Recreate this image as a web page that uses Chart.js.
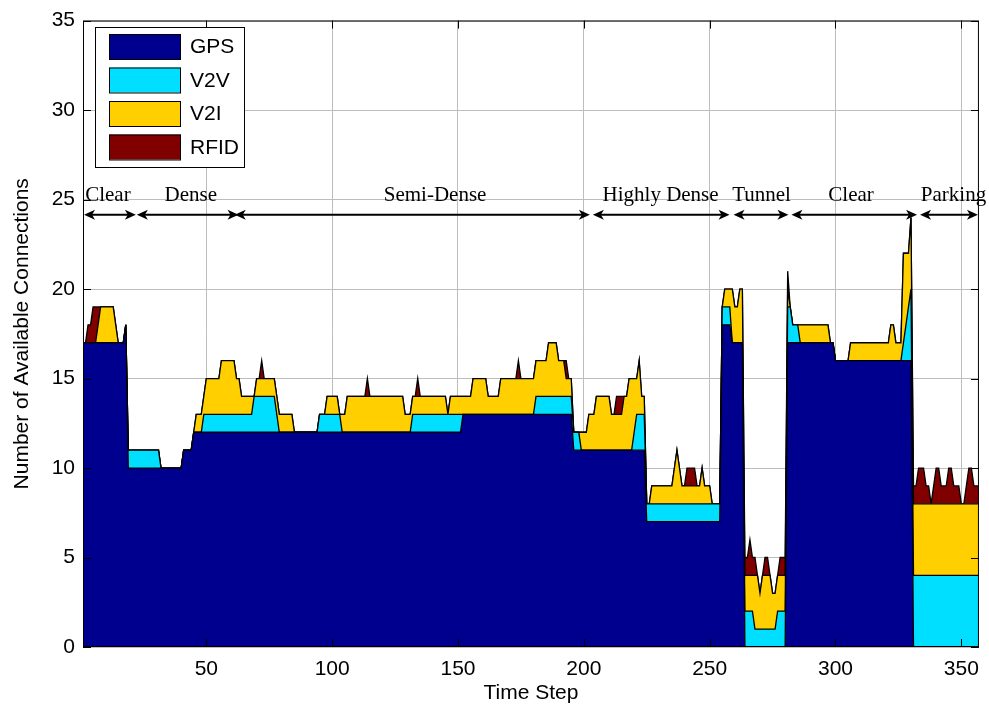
<!DOCTYPE html>
<html>
<head>
<meta charset="utf-8">
<title>Available connections per time step</title>
<script src="https://cdn.jsdelivr.net/npm/chart.js@4.4.1/dist/chart.umd.min.js"></script>
<style>
  html, body { margin: 0; padding: 0; background: #ffffff; }
  #wrap { position: relative; width: 989px; height: 710px; }
</style>
</head>
<body>
<div id="wrap"><canvas id="c" width="989" height="710"></canvas></div>
<script>
// Connections available per technology at every time step (stacked).
const seriesNames = ['GPS', 'V2V', 'V2I', 'RFID'];
const seriesColors = ['#00008F', '#00DFFF', '#FFCF00', '#800000'];

const gps = [
  17,17,17,17,17,17,17,17,17,17, // 1-10
  17,17,17,17,17,17,17,18,10,10, // 11-20
  10,10,10,10,10,10,10,10,10,10, // 21-30
  10,10,10,10,10,10,10,10,10,10, // 31-40
  11,11,11,11,12,12,12,12,12,12, // 41-50
  12,12,12,12,12,12,12,12,12,12, // 51-60
  12,12,12,12,12,12,12,12,12,12, // 61-70
  12,12,12,12,12,12,12,12,12,12, // 71-80
  12,12,12,12,12,12,12,12,12,12, // 81-90
  12,12,12,12,12,12,12,12,12,12, // 91-100
  12,12,12,12,12,12,12,12,12,12, // 101-110
  12,12,12,12,12,12,12,12,12,12, // 111-120
  12,12,12,12,12,12,12,12,12,12, // 121-130
  12,12,12,12,12,12,12,12,12,12, // 131-140
  12,12,12,12,12,12,12,12,12,12, // 141-150
  12,13,13,13,13,13,13,13,13,13, // 151-160
  13,13,13,13,13,13,13,13,13,13, // 161-170
  13,13,13,13,13,13,13,13,13,13, // 171-180
  13,13,13,13,13,13,13,13,13,13, // 181-190
  13,13,13,13,13,11,11,11,11,11, // 191-200
  11,11,11,11,11,11,11,11,11,11, // 201-210
  11,11,11,11,11,11,11,11,11,11, // 211-220
  11,11,11,11, 7, 7, 7, 7, 7, 7, // 221-230
   7, 7, 7, 7, 7, 7, 7, 7, 7, 7, // 231-240
   7, 7, 7, 7, 7, 7, 7, 7, 7, 7, // 241-250
   7, 7, 7, 7,18,18,18,18,17,17, // 251-260
  17,17,17, 0, 0, 0, 0, 0, 0, 0, // 261-270
   0, 0, 0, 0, 0, 0, 0, 0, 0, 0, // 271-280
  17,17,17,17,17,17,17,17,17,17, // 281-290
  17,17,17,17,17,17,17,17,17,16, // 291-300
  16,16,16,16,16,16,16,16,16,16, // 301-310
  16,16,16,16,16,16,16,16,16,16, // 311-320
  16,16,16,16,16,16,16,16,16,16, // 321-330
   0, 0, 0, 0, 0, 0, 0, 0, 0, 0, // 331-340
   0, 0, 0, 0, 0, 0, 0, 0, 0, 0, // 341-350
   0, 0, 0, 0, 0, 0, 0           // 351-357
];

const v2v = [
  0,0,0,0,0,0,0,0,0,0, // 1-10
  0,0,0,0,0,0,0,0,1,1, // 11-20
  1,1,1,1,1,1,1,1,1,1, // 21-30
  1,0,0,0,0,0,0,0,0,0, // 31-40
  0,0,0,0,0,0,0,0,1,1, // 41-50
  1,1,1,1,1,1,1,1,1,1, // 51-60
  1,1,1,1,1,1,1,1,2,2, // 61-70
  2,2,2,2,2,2,2,1,0,0, // 71-80
  0,0,0,0,0,0,0,0,0,0, // 81-90
  0,0,0,0,1,1,1,1,1,1, // 91-100
  1,1,1,0,0,0,0,0,0,0, // 101-110
  0,0,0,0,0,0,0,0,0,0, // 111-120
  0,0,0,0,0,0,0,0,0,0, // 121-130
  0,1,1,1,1,1,1,1,1,1, // 131-140
  1,1,1,1,1,1,1,1,1,1, // 141-150
  1,0,0,0,0,0,0,0,0,0, // 151-160
  0,0,0,0,0,0,0,0,0,0, // 161-170
  0,0,0,0,0,0,0,0,0,0, // 171-180
  1,1,1,1,1,1,1,1,1,1, // 181-190
  1,1,1,1,1,1,1,1,0,0, // 191-200
  0,0,0,0,0,0,0,0,0,0, // 201-210
  0,0,0,0,0,0,0,0,0,1, // 211-220
  2,2,2,2,1,1,1,1,1,1, // 221-230
  1,1,1,1,1,1,1,1,1,1, // 231-240
  1,1,1,1,1,1,1,1,1,1, // 241-250
  1,1,1,1,1,1,1,1,0,0, // 251-260
  0,0,0,2,2,2,2,1,1,1, // 261-270
  1,1,1,1,1,1,2,2,2,2, // 271-280
  2,2,1,1,1,0,0,0,0,0, // 281-290
  0,0,0,0,0,0,0,0,0,0, // 291-300
  0,0,0,0,0,0,0,0,0,0, // 301-310
  0,0,0,0,0,0,0,0,0,0, // 311-320
  0,0,0,0,0,0,1,2,3,4, // 321-330
  4,4,4,4,4,4,4,4,4,4, // 331-340
  4,4,4,4,4,4,4,4,4,4, // 341-350
  4,4,4,4,4,4,4        // 351-357
];

const v2i = [
  0,0,0,0,0,0,1,2,2,2, // 1-10
  2,2,2,1,0,0,0,0,0,0, // 11-20
  0,0,0,0,0,0,0,0,0,0, // 21-30
  0,0,0,0,0,0,0,0,0,0, // 31-40
  0,0,0,0,0,1,1,1,1,2, // 41-50
  2,2,2,2,2,3,3,3,3,3, // 51-60
  3,2,2,1,1,1,1,1,0,1, // 61-70
  1,1,1,1,1,1,1,1,1,1, // 71-80
  1,1,1,1,0,0,0,0,0,0, // 81-90
  0,0,0,0,0,0,0,1,1,1, // 91-100
  1,1,0,1,1,2,2,2,2,2, // 101-110
  2,2,2,2,2,2,2,2,2,2, // 111-120
  2,2,2,2,2,2,2,2,1,1, // 121-130
  1,1,1,1,1,1,1,1,1,1, // 131-140
  1,1,1,1,1,0,1,1,1,1, // 141-150
  1,1,1,1,1,2,2,2,2,2, // 151-160
  2,1,1,1,1,1,2,2,2,2, // 161-170
  2,2,2,2,2,2,2,2,2,2, // 171-180
  2,2,2,2,2,3,3,3,3,2, // 181-190
  2,2,1,1,1,0,0,0,1,1, // 191-200
  1,2,2,2,3,3,3,3,3,3, // 201-210
  2,2,2,2,2,3,3,4,4,3, // 211-220
  2,3,1,1,0,0,1,1,1,1, // 221-230
  1,1,1,1,1,2,3,2,1,1, // 231-240
  1,1,1,1,1,1,2,1,1,1, // 241-250
  0,0,0,0,0,1,1,1,3,2, // 251-260
  2,3,3,2,2,2,2,3,3,2, // 261-270
  3,3,3,3,2,2,2,2,2,2, // 271-280
  1,0,0,0,0,1,1,1,1,1, // 281-290
  1,1,1,1,1,1,1,0,0,0, // 291-300
  0,0,0,0,0,1,1,1,1,1, // 301-310
  1,1,1,1,1,1,1,1,1,1, // 311-320
  1,2,2,1,1,1,5,4,3,4, // 321-330
  4,4,4,4,4,4,4,4,4,4, // 331-340
  4,4,4,4,4,4,4,4,4,4, // 341-350
  4,4,4,4,4,4,4        // 351-357
];

const rfid = [
  0,0,1,1,2,2,1,0,0,0, // 1-10
  0,0,0,0,0,0,0,0,0,0, // 11-20
  0,0,0,0,0,0,0,0,0,0, // 21-30
  0,0,0,0,0,0,0,0,0,0, // 31-40
  0,0,0,0,0,0,0,0,0,0, // 41-50
  0,0,0,0,0,0,0,0,0,0, // 51-60
  0,0,0,0,0,0,0,0,0,0, // 61-70
  0,1,0,0,0,0,0,0,0,0, // 71-80
  0,0,0,0,0,0,0,0,0,0, // 81-90
  0,0,0,0,0,0,0,0,0,0, // 91-100
  0,0,0,0,0,0,0,0,0,0, // 101-110
  0,0,0,1,0,0,0,0,0,0, // 111-120
  0,0,0,0,0,0,0,0,0,0, // 121-130
  0,0,0,1,0,0,0,0,0,0, // 131-140
  0,0,0,0,0,0,0,0,0,0, // 141-150
  0,0,0,0,0,0,0,0,0,0, // 151-160
  0,0,0,0,0,0,0,0,0,0, // 161-170
  0,0,0,1,0,0,0,0,0,0, // 171-180
  0,0,0,0,0,0,0,0,0,0, // 181-190
  0,0,1,0,0,0,0,0,0,0, // 191-200
  0,0,0,0,0,0,0,0,0,0, // 201-210
  0,0,1,1,1,0,0,0,0,0, // 211-220
  0,0,0,0,0,0,0,0,0,0, // 221-230
  0,0,0,0,0,0,0,0,0,0, // 231-240
  1,1,1,1,0,0,0,0,0,0, // 241-250
  0,0,0,0,0,0,0,0,0,0, // 251-260
  0,0,0,1,1,2,1,1,0,0, // 261-270
  0,1,1,0,0,0,0,1,1,1, // 271-280
  1,0,0,0,0,0,0,0,0,0, // 281-290
  0,0,0,0,0,0,0,0,0,0, // 291-300
  0,0,0,0,0,0,0,0,0,0, // 301-310
  0,0,0,0,0,0,0,0,0,0, // 311-320
  0,0,0,0,0,0,0,0,0,0, // 321-330
  1,1,2,2,2,1,1,0,1,2, // 331-340
  2,1,1,1,2,2,1,1,1,0, // 341-350
  0,1,2,2,1,1,1        // 351-357
];

// Time step index for each sample.
const timeSteps = gps.map((_, i) => i + 1);

const xTickValues = [50, 100, 150, 200, 250, 300, 350];
const yTickStep = 5;

// Driving environments along the route (time-step spans and label anchors).
const regionNames = ['Clear', 'Dense', 'Semi-Dense', 'Highly Dense', 'Tunnel', 'Clear', 'Parking'];
const regionFrom  = [1.4, 22.4, 61.3, 203.6, 259.5, 282.5, 333.6];
const regionTo    = [22.0, 62.8, 202.4, 257.9, 281.3, 332.4, 356.6];
const regionLabelAt = [10.9, 43.8, 140.9, 230.5, 270.6, 306.2, 346.9];
const regionArrowLevel = 24.15;
const regionLabelLevel = 24.9;

const sansFamily = '"Liberation Sans", Arial, Helvetica, sans-serif';
const serifFamily = '"Liberation Serif", "Times New Roman", serif';

function drawArrowHead(ctx, tipX, tipY, dir) {
  const len = 11, half = 5, notch = 3;
  ctx.beginPath();
  ctx.moveTo(tipX, tipY);
  ctx.lineTo(tipX - dir * len, tipY - half);
  ctx.lineTo(tipX - dir * (len - notch), tipY);
  ctx.lineTo(tipX - dir * len, tipY + half);
  ctx.closePath();
  ctx.fill();
}

// Axes box, inward tick marks and the environment spans.
const framePlugin = {
  id: 'framePlugin',
  afterDatasetsDraw(chart) {
    const { ctx, chartArea: a, scales: { x, y } } = chart;
    ctx.save();
    ctx.strokeStyle = '#000';
    ctx.lineWidth = 1;
    const tl = 8;
    ctx.beginPath();
    x.ticks.forEach(t => {
      const px = Math.round(x.getPixelForValue(t.value)) + 0.5;
      ctx.moveTo(px, a.bottom); ctx.lineTo(px, a.bottom - tl);
      ctx.moveTo(px, a.top); ctx.lineTo(px, a.top + tl);
    });
    y.ticks.forEach(t => {
      const py = Math.round(y.getPixelForValue(t.value)) + 0.5;
      ctx.moveTo(a.left, py); ctx.lineTo(a.left + tl, py);
      ctx.moveTo(a.right, py); ctx.lineTo(a.right - tl, py);
    });
    ctx.stroke();
    ctx.strokeRect(a.left + 0.5, a.top + 0.5, a.right - a.left - 1, a.bottom - a.top - 1);

    // environment spans
    const ay = y.getPixelForValue(regionArrowLevel);
    const ly = y.getPixelForValue(regionLabelLevel);
    ctx.fillStyle = '#000';
    ctx.lineWidth = 2;
    ctx.font = '21px ' + serifFamily;
    ctx.textAlign = 'center';
    ctx.textBaseline = 'alphabetic';
    regionNames.forEach((name, i) => {
      const x0 = x.getPixelForValue(regionFrom[i]);
      const x1 = x.getPixelForValue(regionTo[i]);
      ctx.beginPath();
      ctx.moveTo(x0 + 4, ay);
      ctx.lineTo(x1 - 4, ay);
      ctx.stroke();
      drawArrowHead(ctx, x0, ay, -1);
      drawArrowHead(ctx, x1, ay, 1);
      ctx.fillText(name, x.getPixelForValue(regionLabelAt[i]), ly);
    });
    ctx.restore();
  }
};

// Legend box in the upper-left corner of the plot.
const legendPlugin = {
  id: 'legendPlugin',
  afterDraw(chart) {
    const ctx = chart.ctx;
    const L = 95, T = 27, W = 149, H = 140;
    ctx.save();
    ctx.fillStyle = '#fff';
    ctx.fillRect(L, T, W, H);
    ctx.strokeStyle = '#000';
    ctx.lineWidth = 1;
    ctx.strokeRect(L + 0.5, T + 0.5, W, H);
    ctx.font = '21px ' + sansFamily;
    ctx.textBaseline = 'middle';
    ctx.textAlign = 'left';
    chart.data.datasets.forEach((ds, i) => {
      const cy = 46.5 + i * 33.5;
      ctx.fillStyle = ds.backgroundColor;
      ctx.fillRect(109, cy - 12.5, 72, 25);
      ctx.strokeRect(109.5, cy - 12, 71, 25);
      ctx.fillStyle = '#000';
      ctx.fillText(ds.label, 190, cy + 1);
    });
    ctx.restore();
  }
};

const seriesData = [gps, v2v, v2i, rfid];

new Chart(document.getElementById('c'), {
  type: 'line',
  data: {
    labels: timeSteps,
    datasets: seriesNames.map((name, k) => ({
      label: name,
      data: seriesData[k],
      backgroundColor: seriesColors[k],
      borderColor: '#000',
      borderWidth: 1.3,
      fill: k === 0 ? 'origin' : '-1',
      pointRadius: 0,
      pointHoverRadius: 0,
      tension: 0
    }))
  },
  options: {
    responsive: false,
    animation: false,
    events: [],
    layout: { padding: { top: 17, right: 8, bottom: 0, left: 0 } },
    plugins: {
      legend: { display: false },
      tooltip: { enabled: false }
    },
    scales: {
      x: {
        type: 'linear',
        min: 1,
        max: 357,
        afterBuildTicks: s => { s.ticks = xTickValues.map(v => ({ value: v })); },
        afterFit: s => { s.height = 63; },
        grid: { color: '#bdbdbd', lineWidth: 1, drawTicks: false },
        border: { display: false },
        ticks: { color: '#000', font: { family: sansFamily, size: 21 }, padding: 10, maxRotation: 0, autoSkip: false },
        title: { display: true, text: 'Time Step', color: '#000', font: { family: sansFamily, size: 21 }, padding: { top: 0, bottom: 4 } }
      },
      y: {
        stacked: true,
        min: 0,
        max: 35,
        afterFit: s => { s.width = 83; },
        grid: { color: '#bdbdbd', lineWidth: 1, drawTicks: false },
        border: { display: false },
        ticks: { stepSize: yTickStep, color: '#000', font: { family: sansFamily, size: 21 }, padding: 8 },
        title: { display: true, text: 'Number of Available Connections', color: '#000', font: { family: sansFamily, size: 21 }, padding: { top: 10, bottom: 0 } }
      }
    }
  },
  plugins: [framePlugin, legendPlugin]
});
</script>
</body>
</html>
